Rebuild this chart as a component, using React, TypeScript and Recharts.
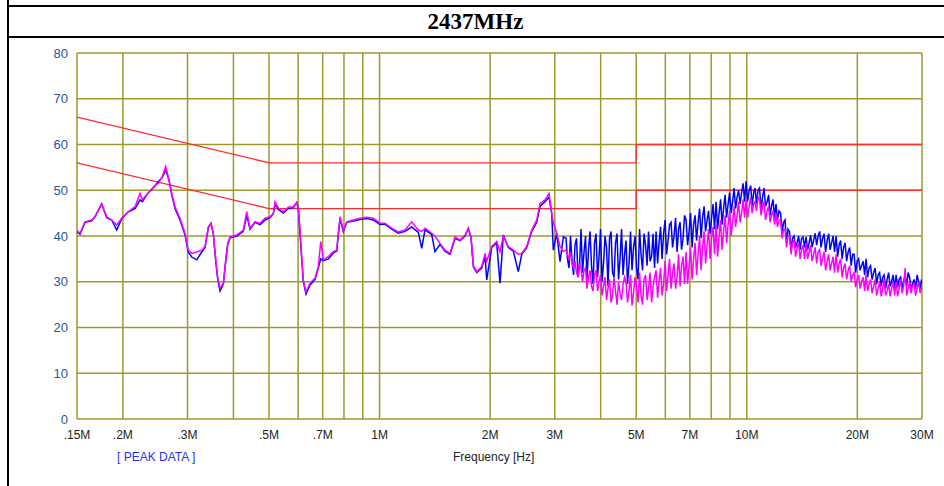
import React from 'react';
import { LineChart, Line, XAxis, YAxis, CartesianGrid, ReferenceLine } from 'recharts';

// frequency points in MHz, below 3.2M the two scans are smooth
const freqLow = [
  0.15, 0.1529, 0.1577, 0.1645, 0.1679, 0.1751, 0.1807, 0.1865, 0.1924, 0.1985,
  0.2069, 0.2158, 0.2227, 0.226, 0.2322, 0.2447, 0.2498, 0.2561, 0.2616, 0.2671,
  0.2717, 0.2773, 0.2862, 0.2953, 0.3014, 0.308, 0.3178, 0.3279, 0.3348, 0.3418,
  0.3476, 0.3527, 0.358, 0.3626, 0.3678, 0.3755, 0.3812, 0.386, 0.3916, 0.4083,
  0.4256, 0.4348, 0.4439, 0.458, 0.4726, 0.4877, 0.5032, 0.5137, 0.5192, 0.5301,
  0.547, 0.5644, 0.5824, 0.5949, 0.6009, 0.6073, 0.6138, 0.6201, 0.6306, 0.6466,
  0.6672, 0.6811, 0.6916, 0.703, 0.7253, 0.7484, 0.7644, 0.7722, 0.7805, 0.7968,
  0.814, 0.8483, 0.8845, 0.9224, 0.9615, 1.003, 1.0348, 1.0792, 1.1249, 1.173,
  1.2233, 1.2753, 1.3026, 1.3299, 1.3868, 1.4158, 1.4611, 1.5076, 1.5556, 1.6051,
  1.6562, 1.7089, 1.7447, 1.7747, 1.8003, 1.8392, 1.8977, 1.9375, 1.9581, 2.0204,
  2.0847, 2.1281, 2.1727, 2.2418, 2.3131, 2.3867, 2.4389, 2.5165, 2.5966, 2.6792,
  2.7353, 2.8224, 2.894, 2.9434, 2.973, 3.0373, 3.1009, 3.1655,
];

const blueLow = [
  41.0, 40.4, 43.0, 43.3, 44.2, 47.0, 44.0, 43.5, 41.3, 43.8,
  45.3, 46.0, 47.9, 47.5, 49.0, 51.0, 51.9, 52.8, 54.5, 52.2,
  49.0, 46.0, 43.5, 40.2, 36.5, 35.4, 34.8, 36.5, 37.5, 41.8,
  42.8, 40.4, 34.5, 30.5, 28.0, 29.5, 34.5, 38.2, 39.6, 40.0,
  41.0, 44.5, 41.5, 43.0, 42.5, 43.5, 44.0, 44.9, 47.0, 45.8,
  45.0, 46.0, 46.2, 47.3, 46.0, 40.5, 35.0, 30.0, 27.3, 29.3,
  30.5, 33.0, 35.0, 34.6, 35.0, 36.3, 36.7, 40.3, 43.8, 41.0,
  43.0, 43.3, 43.6, 43.8, 43.5, 42.5, 42.6, 41.5, 40.6, 41.0,
  42.0, 40.8, 37.3, 41.4, 40.3, 36.6, 38.2, 36.7, 36.0, 39.5,
  39.0, 40.0, 41.7, 39.6, 33.3, 32.0, 33.0, 35.5, 30.4, 37.5,
  38.5, 29.7, 40.2, 37.5, 36.7, 32.2, 36.0, 37.5, 41.0, 43.0,
  46.5, 47.5, 48.5, 44.9, 36.9, 40.6, 34.4, 39.8,
];

const magentaLow = [
  41.2, 40.6, 43.1, 43.5, 44.2, 47.0, 44.2, 43.5, 42.4, 43.9,
  45.3, 46.4, 49.3, 47.9, 49.0, 51.1, 51.5, 53.0, 55.2, 52.2,
  49.3, 46.4, 43.9, 40.6, 36.9, 36.2, 36.5, 36.9, 37.7, 42.0,
  42.8, 40.6, 34.8, 30.8, 28.6, 29.7, 34.8, 38.5, 39.8, 40.2,
  41.3, 45.3, 41.7, 43.1, 42.8, 43.9, 44.2, 44.9, 47.5, 46.1,
  45.3, 46.3, 46.4, 47.3, 46.1, 41.3, 35.5, 30.4, 27.8, 29.7,
  30.8, 33.3, 38.8, 34.8, 35.5, 36.6, 36.9, 40.6, 44.2, 41.3,
  43.1, 43.5, 43.9, 44.1, 43.9, 42.8, 42.8, 41.7, 40.9, 41.3,
  43.1, 41.3, 41.0, 41.7, 40.6, 40.0, 38.4, 36.9, 36.2, 39.8,
  39.1, 40.2, 41.5, 39.8, 33.5, 32.2, 33.3, 36.2, 34.5, 37.7,
  38.8, 36.5, 40.0, 37.7, 36.9, 36.0, 36.2, 37.7, 41.3, 43.5,
  47.1, 47.9, 49.3, 44.9, 43.0, 40.6, 37.7, 36.6,
];

// above 3.2M both scans are very noisy
const freqHigh = [
  3.219, 3.249, 3.28, 3.311, 3.343, 3.375, 3.406, 3.438, 3.471, 3.504,
  3.537, 3.57, 3.604, 3.638, 3.672, 3.707, 3.742, 3.777, 3.813, 3.849,
  3.886, 3.923, 3.96, 3.997, 4.035, 4.073, 4.111, 4.15, 4.189, 4.229,
  4.269, 4.309, 4.35, 4.391, 4.433, 4.475, 4.517, 4.56, 4.603, 4.646,
  4.69, 4.734, 4.779, 4.824, 4.87, 4.916, 4.963, 5.01, 5.057, 5.105,
  5.153, 5.202, 5.251, 5.301, 5.351, 5.402, 5.453, 5.505, 5.556, 5.609,
  5.662, 5.716, 5.769, 5.824, 5.879, 5.935, 5.99, 6.047, 6.104, 6.162,
  6.22, 6.279, 6.338, 6.398, 6.459, 6.52, 6.581, 6.643, 6.706, 6.769,
  6.834, 6.899, 6.964, 7.03, 7.096, 7.163, 7.231, 7.299, 7.368, 7.438,
  7.508, 7.579, 7.651, 7.723, 7.796, 7.87, 7.944, 8.019, 8.095, 8.171,
  8.249, 8.327, 8.406, 8.485, 8.565, 8.646, 8.728, 8.81, 8.894, 8.978,
  9.063, 9.149, 9.235, 9.322, 9.41, 9.499, 9.589, 9.68, 9.771, 9.863,
  9.957, 10.05, 10.15, 10.25, 10.34, 10.44, 10.53, 10.63, 10.73, 10.83,
  10.94, 11.04, 11.14, 11.25, 11.36, 11.47, 11.57, 11.68, 11.79, 11.9,
  12.01, 12.12, 12.24, 12.36, 12.48, 12.6, 12.71, 12.83, 12.95, 13.07,
  13.2, 13.32, 13.45, 13.58, 13.71, 13.84, 13.97, 14.1, 14.23, 14.36,
  14.5, 14.64, 14.78, 14.92, 15.06, 15.2, 15.35, 15.5, 15.64, 15.79,
  15.93, 16.08, 16.24, 16.39, 16.55, 16.71, 16.86, 17.02, 17.18, 17.34,
  17.51, 17.68, 17.84, 18.01, 18.18, 18.35, 18.52, 18.7, 18.88, 19.06,
  19.24, 19.42, 19.6, 19.79, 19.97, 20.16, 20.35, 20.54, 20.74, 20.94,
  21.13, 21.33, 21.53, 21.73, 21.94, 22.15, 22.36, 22.57, 22.78, 23.0,
  23.22, 23.44, 23.66, 23.88, 24.11, 24.34, 24.56, 24.79, 25.03, 25.27,
  25.51, 25.75, 25.99, 26.24, 26.48, 26.73, 26.99, 27.25, 27.5, 27.76,
  28.02, 28.28, 28.55, 28.82, 29.1, 29.37, 29.65, 29.93, 30.0,
];

const blueHigh = [
  39.5, 35.0, 33.0, 40.0, 34.5, 31.5, 38.0, 39.5, 31.0, 33.5,
  41.5, 32.0, 36.5, 40.0, 30.5, 37.0, 41.0, 33.5, 29.5, 38.5,
  40.5, 31.0, 35.5, 41.5, 30.0, 34.0, 40.0, 37.5, 29.0, 39.5,
  41.0, 32.0, 31.0, 38.5, 40.5, 30.5, 35.0, 41.5, 31.5, 36.0,
  39.0, 29.5, 34.0, 41.0, 32.5, 37.5, 40.0, 33.0, 30.5, 41.5,
  36.0, 32.5, 40.5, 38.0, 33.5, 41.0, 34.5, 35.5, 40.5, 33.0,
  41.0, 34.0, 38.5, 42.0, 35.0, 40.5, 43.5, 36.0, 39.0, 42.5,
  43.0, 37.5, 40.0, 44.0, 36.5, 41.5, 43.0, 37.0, 39.5, 44.5,
  43.5, 38.0, 41.0, 45.0, 37.5, 42.5, 44.5, 39.0, 43.0, 46.0,
  39.5, 44.0, 46.5, 41.0, 43.5, 45.5, 40.5, 44.0, 47.0, 41.5,
  47.5, 41.5, 45.0, 48.0, 42.5, 46.0, 49.0, 44.0, 47.0, 49.5,
  45.0, 47.5, 50.5, 46.0, 48.5, 50.0, 47.0, 49.5, 51.5, 47.5,
  52.0, 47.5, 50.0, 51.0, 46.5, 49.5, 50.5, 47.0, 50.0, 50.5,
  46.0, 48.5, 50.5, 46.5, 47.5, 49.0, 44.5, 46.5, 48.0, 44.0,
  47.0, 43.5, 45.5, 45.0, 41.0, 43.0, 43.5, 38.5, 41.5, 41.0,
  37.0, 39.5, 40.0, 37.5, 38.5, 40.0, 37.0, 39.5, 39.8, 37.5,
  39.8, 37.0, 38.5, 40.2, 37.5, 39.0, 40.6, 38.0, 40.0, 41.0,
  37.5, 39.5, 40.5, 36.5, 39.0, 40.5, 37.0, 38.5, 40.0, 36.5,
  40.0, 35.5, 38.0, 39.0, 35.0, 37.5, 38.5, 34.5, 36.5, 37.5,
  33.5, 36.0, 36.0, 32.0, 34.5, 35.0, 32.5, 33.5, 34.5, 31.5,
  35.0, 31.0, 33.0, 33.5, 30.5, 32.0, 33.0, 29.5, 31.5, 32.0,
  29.0, 31.0, 31.5, 28.5, 30.5, 32.0, 29.0, 30.0, 31.5, 28.5,
  31.5, 28.8, 30.5, 31.0, 28.5, 30.0, 31.5, 29.0, 32.0, 31.0,
  28.5, 29.5, 30.5, 28.5, 31.5, 30.0, 28.5, 30.5, 29.5,
];

const magentaHigh = [
  37.0, 36.0, 35.0, 36.5, 34.0, 33.0, 34.5, 32.0, 31.0, 34.0,
  33.0, 30.0, 32.5, 33.0, 28.5, 31.0, 32.5, 29.0, 28.0, 31.5,
  32.5, 28.0, 30.0, 31.5, 27.0, 29.0, 31.0, 26.0, 28.5, 30.5,
  25.5, 27.0, 31.0, 28.0, 25.0, 30.0, 27.5, 26.0, 29.5, 31.0,
  30.0, 25.5, 28.0, 31.5, 24.8, 27.5, 31.0, 29.0, 25.5, 32.0,
  27.0, 25.0, 30.5, 31.5, 26.0, 28.5, 32.0, 25.5, 29.0, 31.0,
  32.5, 26.5, 30.0, 33.0, 27.0, 29.5, 34.5, 28.0, 31.5, 35.0,
  28.5, 32.0, 34.0, 28.5, 31.0, 36.0, 29.0, 33.5, 35.5, 29.5,
  36.5, 29.5, 33.5, 37.5, 30.5, 35.0, 38.5, 31.5, 36.0, 40.0,
  32.5, 37.5, 41.0, 34.0, 38.0, 41.5, 35.0, 39.5, 42.0, 36.0,
  42.5, 35.5, 40.0, 43.5, 37.0, 41.0, 44.5, 38.5, 42.5, 45.5,
  40.0, 43.0, 46.5, 42.0, 44.5, 47.5, 43.0, 45.0, 48.0, 44.0,
  48.0, 44.0, 46.5, 48.5, 45.0, 47.0, 47.5, 45.5, 48.5, 48.0,
  44.5, 46.5, 47.5, 43.5, 45.5, 46.5, 43.0, 44.5, 45.5, 42.5,
  45.0, 42.0, 43.5, 43.5, 39.5, 41.5, 41.5, 37.5, 40.0, 40.0,
  36.0, 38.5, 39.0, 35.5, 37.5, 38.5, 35.0, 37.0, 38.0, 35.0,
  38.5, 35.0, 36.5, 38.0, 34.5, 36.0, 37.5, 34.0, 36.5, 37.0,
  33.5, 35.0, 36.5, 32.5, 34.5, 36.0, 32.5, 34.0, 35.5, 32.0,
  36.0, 32.0, 34.0, 35.0, 31.0, 33.0, 34.0, 30.5, 32.5, 33.5,
  30.0, 31.5, 32.0, 28.8, 30.5, 31.5, 28.5, 30.0, 31.0, 28.0,
  31.5, 28.0, 29.5, 30.5, 27.5, 29.0, 30.5, 27.0, 28.5, 30.0,
  26.8, 28.5, 30.5, 27.0, 28.0, 29.5, 26.8, 28.5, 30.0, 27.0,
  30.0, 26.8, 28.5, 30.5, 27.5, 29.0, 33.0, 27.0, 28.5, 30.0,
  27.5, 29.0, 29.5, 27.0, 28.5, 30.0, 27.5, 28.8, 28.5,
];

// limit lines (QP and AV)
const limitFreq = [0.15, 0.5, 5, 5, 30];
const limitQp = [66, 56, 56, 60, 60];
const limitAv = [56, 46, 46, 50, 50];

const gridFreq = [0.2, 0.3, 0.4, 0.5, 0.6, 0.7, 0.8, 0.9, 1, 2, 3, 4, 5, 6, 7, 8, 9, 10, 20];
const xTicks = [0.15, 0.2, 0.3, 0.5, 0.7, 1, 2, 3, 5, 7, 10, 20, 30];
const xTickLabels = ['.15M', '.2M', '.3M', '.5M', '.7M', '1M', '2M', '3M', '5M', '7M', '10M', '20M', '30M'];
const yTicks = [0, 10, 20, 30, 40, 50, 60, 70, 80];

const GRID = '#9c9a2c';

const toRows = (fs: number[], vs: number[]) => fs.map((f, i) => ({ f, v: vs[i] }));

const blueData = toRows(freqLow.concat(freqHigh), blueLow.concat(blueHigh));
const magentaData = toRows(freqLow.concat(freqHigh), magentaLow.concat(magentaHigh));
const qpData = toRows(limitFreq, limitQp);
const avData = toRows(limitFreq, limitAv);

export default function App() {
  return (
    <div style={{ position: 'relative', width: 944, height: 486, background: '#fff', overflow: 'hidden' }}>
      <style>{`body{margin:0}`}</style>
      <LineChart width={944} height={486} margin={{ top: 53, right: 22, bottom: 37, left: 27 }}>
        <CartesianGrid vertical={false} stroke={GRID} strokeWidth={1.5} />
        {gridFreq.map((f) => (
          <ReferenceLine key={f} x={f} stroke={GRID} strokeWidth={1.5} />
        ))}
        <ReferenceLine x={0.15} stroke={GRID} strokeWidth={1.5} />
        <ReferenceLine x={30} stroke={GRID} strokeWidth={1.5} />
        <XAxis
          dataKey="f"
          type="number"
          scale="log"
          domain={[0.15, 30]}
          ticks={xTicks}
          allowDataOverflow
          axisLine={false}
          tickLine={false}
          tickSize={0}
          tickMargin={11}
          height={30}
          interval={0}
          tickFormatter={(v: number) => xTickLabels[xTicks.indexOf(v)] ?? ''}
          tick={{ fill: '#222', fontSize: 12, fontFamily: 'Liberation Sans, Arial, sans-serif' }}
        />
        <YAxis
          type="number"
          domain={[0, 80]}
          ticks={yTicks}
          axisLine={false}
          tickLine={false}
          tickSize={0}
          tickMargin={9}
          width={50}
          interval={0}
          tick={{ fill: '#2b5597', fontSize: 13, fontFamily: 'Liberation Sans, Arial, sans-serif' }}
        />
        <Line data={qpData} dataKey="v" type="linear" stroke="#ff2a2a" strokeWidth={1.3} dot={false} isAnimationActive={false} />
        <Line data={avData} dataKey="v" type="linear" stroke="#ff2a2a" strokeWidth={1.3} dot={false} isAnimationActive={false} />
        <Line data={blueData} dataKey="v" type="linear" stroke="#0000ff" strokeWidth={1.5} dot={false} isAnimationActive={false} />
        <Line data={magentaData} dataKey="v" type="linear" stroke="#ff00ff" strokeWidth={1.5} dot={false} isAnimationActive={false} />
      </LineChart>

      {/* frame and title */}
      <div style={{ position: 'absolute', left: 7, top: 0, width: 2, height: 486, background: '#000' }} />
      <div
        style={{
          position: 'absolute',
          left: 7,
          top: 5,
          width: 937,
          height: 29,
          borderTop: '2px solid #000',
          borderBottom: '2px solid #000',
          textAlign: 'center',
          fontFamily: 'Liberation Serif, Times New Roman, serif',
          fontWeight: 'bold',
          fontSize: 23,
          lineHeight: '29px',
          color: '#000',
        }}
      >
        2437MHz
      </div>
      <div
        style={{
          position: 'absolute',
          left: 117,
          top: 450,
          fontFamily: 'Liberation Sans, Arial, sans-serif',
          fontSize: 12,
          color: '#2233ee',
          whiteSpace: 'pre',
        }}
      >
        {'[ PEAK DATA ]'}
      </div>
      <div
        style={{
          position: 'absolute',
          left: 453,
          top: 450,
          fontFamily: 'Liberation Sans, Arial, sans-serif',
          fontSize: 12,
          color: '#222',
        }}
      >
        Frequency [Hz]
      </div>
    </div>
  );
}
